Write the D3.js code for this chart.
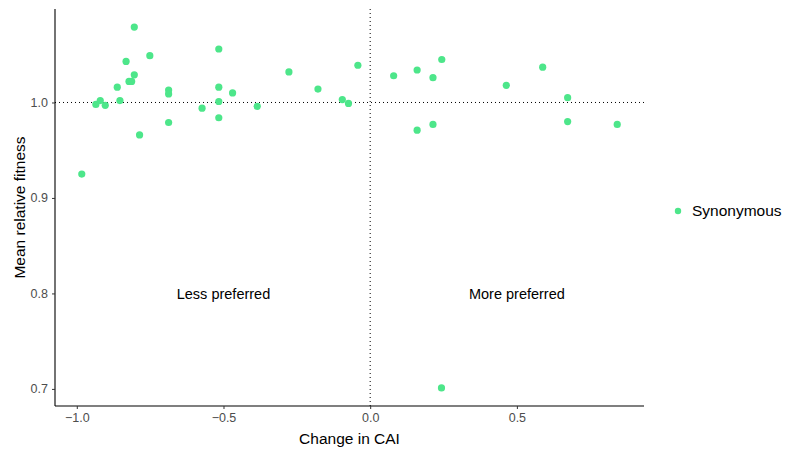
<!DOCTYPE html>
<html>
<head>
<meta charset="utf-8">
<script src="https://cdn.jsdelivr.net/npm/d3@7"></script>
<style>
  body { margin: 0; background: #fff; }
  svg { display: block; font-family: "Liberation Sans", Arial, sans-serif; }
</style>
</head>
<body>
<div id="chart"></div>
<script>
// Mean relative fitness vs change in CAI (synonymous mutants)
const cai = [
  -0.983, -0.935, -0.920, -0.903, -0.862, -0.853, -0.832, -0.822, -0.813, -0.804,
  -0.804, -0.786, -0.751, -0.687, -0.687, -0.687, -0.573, -0.516, -0.516, -0.516,
  -0.516, -0.469, -0.385, -0.277, -0.178, -0.095, -0.074, -0.042,
  0.080, 0.160, 0.214, 0.244, 0.160, 0.214, 0.464, 0.588, 0.673, 0.673, 0.842, 0.243
];
const fitness = [
  0.925, 0.998, 1.002, 0.997, 1.016, 1.002, 1.043, 1.022, 1.022, 1.029,
  1.079, 0.966, 1.049, 1.013, 1.009, 0.979, 0.994, 1.056, 1.016, 1.001,
  0.984, 1.010, 0.996, 1.032, 1.014, 1.003, 0.999, 1.039,
  1.028, 1.034, 1.026, 1.045, 0.971, 0.977, 1.018, 1.037, 1.005, 0.980, 0.977, 0.701
];
const xTicks = [-1.0, -0.5, 0.0, 0.5];
const yTicks = [0.7, 0.8, 0.9, 1.0];
const annotations = [
  { x: -0.5, y: 0.8, label: "Less preferred" },
  { x: 0.5, y: 0.8, label: "More preferred" }
];
const seriesName = "Synonymous";

(function () {
  const W = 788, H = 451;
  const plot = { left: 55, right: 644, top: 9, bottom: 406 };
  const green = "#4de68a";

  const svg = d3.select("#chart").append("svg")
    .attr("width", W).attr("height", H);

  // ggplot-style 5% expansion
  const xExt = d3.extent(cai), yExt = d3.extent(fitness);
  const xPad = (xExt[1] - xExt[0]) * 0.05, yPad = (yExt[1] - yExt[0]) * 0.05;
  const x = d3.scaleLinear().domain([xExt[0] - xPad, xExt[1] + xPad]).range([plot.left, plot.right]);
  const y = d3.scaleLinear().domain([yExt[0] - yPad, yExt[1] + yPad]).range([plot.bottom, plot.top]);

  // Reference lines
  svg.append("line")
    .attr("x1", plot.left).attr("x2", plot.right)
    .attr("y1", y(1)).attr("y2", y(1))
    .attr("stroke", "#000").attr("stroke-width", 1).attr("stroke-dasharray", "1 3");
  svg.append("line")
    .attr("x1", x(0)).attr("x2", x(0))
    .attr("y1", plot.top).attr("y2", plot.bottom)
    .attr("stroke", "#000").attr("stroke-width", 1).attr("stroke-dasharray", "1 3");

  // Points
  svg.append("g").selectAll("circle")
    .data(cai.map((c, i) => ({ c, f: fitness[i] })))
    .join("circle")
    .attr("cx", d => x(d.c)).attr("cy", d => y(d.f))
    .attr("r", 3.6).attr("fill", green);

  // Annotations
  annotations.forEach(a => {
    svg.append("text")
      .attr("x", x(a.x)).attr("y", y(a.y))
      .attr("dy", "0.35em").attr("text-anchor", "middle")
      .attr("font-size", "14.5px").attr("fill", "#000")
      .text(a.label);
  });

  // Axes
  const xAxis = svg.append("g")
    .attr("transform", `translate(0,${plot.bottom})`)
    .call(d3.axisBottom(x).tickValues(xTicks).tickFormat(d3.format(".1f")).tickSize(3).tickPadding(4));
  const yAxis = svg.append("g")
    .attr("transform", `translate(${plot.left},0)`)
    .call(d3.axisLeft(y).tickValues(yTicks).tickFormat(d3.format(".1f")).tickSize(3).tickPadding(4));

  [xAxis, yAxis].forEach(ax => {
    ax.select(".domain").attr("stroke", "#000").attr("stroke-width", 1.1);
    ax.selectAll(".tick line").attr("stroke", "#333");
    ax.selectAll(".tick text")
      .attr("fill", "#4d4d4d").attr("font-size", "12.5px")
      .attr("font-family", "'Liberation Sans', Arial, sans-serif")
      .text(d => d3.format(".1f")(d).replace("-", "\u2212"));
  });
  // plain axis lines without outer ticks
  xAxis.select(".domain").attr("d", `M${plot.left},0H${plot.right}`);
  yAxis.select(".domain").attr("d", `M0,${plot.top}V${plot.bottom}`);

  // Axis titles
  svg.append("text")
    .attr("x", (plot.left + plot.right) / 2).attr("y", 444)
    .attr("text-anchor", "middle").attr("font-size", "15.5px").attr("fill", "#000")
    .text("Change in CAI");
  svg.append("text")
    .attr("transform", `translate(25,${(plot.top + plot.bottom) / 2}) rotate(-90)`)
    .attr("text-anchor", "middle").attr("font-size", "15.5px").attr("fill", "#000")
    .text("Mean relative fitness");

  // Legend
  const lg = svg.append("g").attr("transform", "translate(678,211)");
  lg.append("circle").attr("r", 3.2).attr("fill", green);
  lg.append("text").attr("x", 14).attr("dy", "0.35em")
    .attr("font-size", "15.5px").attr("fill", "#000")
    .text(seriesName);
})();
</script>
</body>
</html>
